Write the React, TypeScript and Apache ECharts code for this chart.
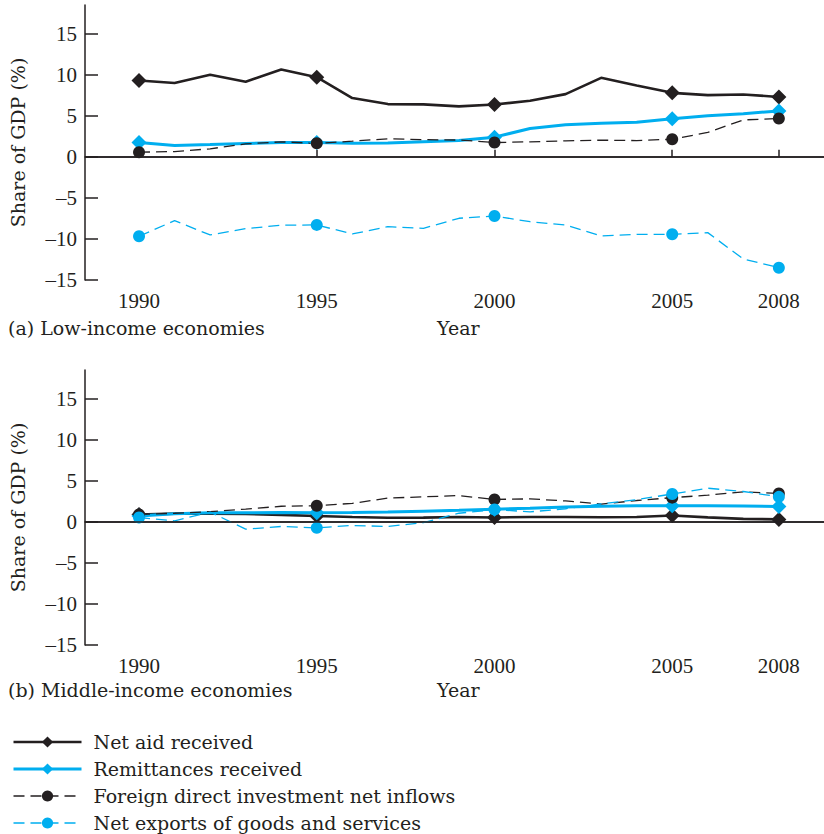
import React, { useEffect, useRef } from "react";
import * as echarts from "echarts";

const years = [1990, 1991, 1992, 1993, 1994, 1995, 1996, 1997, 1998, 1999, 2000, 2001, 2002, 2003, 2004, 2005, 2006, 2007, 2008];
const markerYears = [1990, 1995, 2000, 2005, 2008];
const tickYears = [1990, 1995, 2000, 2005, 2008];
const seriesNames = ["Net aid received", "Remittances received", "Foreign direct investment net inflows", "Net exports of goods and services"];

// (a) Low-income economies
const lowAid = [9.3, 9.0, 10.0, 9.15, 10.65, 9.7, 7.16, 6.43, 6.4, 6.15, 6.38, 6.83, 7.64, 9.63, 8.7, 7.8, 7.52, 7.6, 7.3];
const lowRemit = [1.75, 1.38, 1.5, 1.63, 1.75, 1.75, 1.65, 1.7, 1.85, 2.0, 2.4, 3.45, 3.9, 4.1, 4.23, 4.63, 5.0, 5.25, 5.6];
const lowFdi = [0.57, 0.65, 0.98, 1.58, 1.83, 1.65, 1.91, 2.2, 2.1, 2.05, 1.75, 1.83, 1.95, 2.03, 1.99, 2.15, 2.97, 4.5, 4.67];
const lowExports = [-9.67, -7.77, -9.51, -8.74, -8.33, -8.29, -9.39, -8.5, -8.7, -7.48, -7.2, -7.9, -8.29, -9.63, -9.43, -9.43, -9.23, -12.44, -13.5];

// (b) Middle-income economies
const midAid = [0.9, 1.0, 1.0, 0.95, 0.85, 0.72, 0.6, 0.5, 0.52, 0.6, 0.53, 0.6, 0.6, 0.57, 0.6, 0.78, 0.55, 0.37, 0.3];
const midRemit = [0.7, 1.0, 1.1, 1.1, 1.15, 1.12, 1.15, 1.2, 1.3, 1.4, 1.55, 1.65, 1.8, 1.9, 1.95, 1.95, 1.95, 1.93, 1.87];
const midFdi = [0.9, 1.05, 1.25, 1.55, 1.9, 1.97, 2.25, 2.9, 3.05, 3.2, 2.73, 2.8, 2.55, 2.16, 2.6, 2.95, 3.25, 3.66, 3.46];
const midExports = [0.53, 0.12, 1.2, -0.89, -0.56, -0.73, -0.44, -0.56, -0.1, 1.05, 1.5, 1.22, 1.6, 2.2, 2.7, 3.4, 4.1, 3.7, 3.05];

const BLACK = "#231f20";
const BLUE = "#00aeef";
const SERIF = "'Liberation Serif', 'DejaVu Serif', serif";
const TEXT_SERIF = "'DejaVu Serif', 'Liberation Serif', serif";

function makeData(values: number[]) {
  return years.map((y, i) =>
    markerYears.includes(y) ? { value: [y, values[i]] } : { value: [y, values[i]], symbol: "none" }
  );
}

function seriesFor(idx: number, vals: number[][]) {
  const styles = [
    { color: BLACK, width: 2.6, type: "solid", symbol: "diamond", size: [15, 15] },
    { color: BLUE, width: 3, type: "solid", symbol: "diamond", size: [15, 15] },
    { color: BLACK, width: 1.3, type: [11, 6], symbol: "circle", size: 12 },
    { color: BLUE, width: 1.3, type: [11, 6], symbol: "circle", size: 12 },
  ];
  return vals.map((v, k) => {
    const s = styles[k];
    const out: any = {
      name: seriesNames[k],
      type: "line",
      xAxisIndex: idx,
      yAxisIndex: idx,
      data: makeData(v),
      symbol: s.symbol,
      symbolSize: s.size,
      showSymbol: true,
      color: s.color,
      itemStyle: { color: s.color },
      lineStyle: { color: s.color, width: s.width, type: s.type },
      z: 3,
    };
    if (k === 0) {
      out.markLine = {
        silent: true,
        symbol: "none",
        label: { show: false },
        lineStyle: { color: BLACK, width: 1.5, type: "solid" },
        data: [{ yAxis: 0 }],
      };
    }
    return out;
  });
}

function xAxisFor(gridIndex: number) {
  return {
    type: "value",
    gridIndex,
    min: 1988.48,
    max: 2009.27,
    axisLine: { show: true, lineStyle: { color: BLACK, width: 1.5 } },
    axisTick: { show: true, inside: true, length: 7, customValues: tickYears, lineStyle: { color: BLACK, width: 1.5 } },
    axisLabel: {
      customValues: tickYears,
      margin: 10,
      fontFamily: SERIF,
      fontSize: 21,
      color: BLACK,
      formatter: (v: number) => String(v),
    },
    splitLine: { show: false },
  };
}

function yAxisFor(gridIndex: number) {
  return {
    type: "value",
    gridIndex,
    min: -15,
    max: 18.5,
    interval: 5,
    name: "Share of GDP (%)",
    nameLocation: "middle",
    nameGap: 58,
    nameTextStyle: { fontFamily: TEXT_SERIF, fontSize: 19, color: BLACK },
    axisLine: { show: true, lineStyle: { color: BLACK, width: 1.5 } },
    axisTick: { show: true, inside: true, length: 13, lineStyle: { color: BLACK, width: 1.5 } },
    axisLabel: {
      margin: 8,
      fontFamily: SERIF,
      fontSize: 21,
      color: BLACK,
      showMaxLabel: false,
      formatter: (v: number) => (v > 15 ? "" : v < 0 ? "\u2013" + Math.abs(v) : String(v)),
    },
    splitLine: { show: false },
  };
}

export default function App() {
  const ref = useRef<HTMLDivElement>(null);
  useEffect(() => {
    if (!ref.current) return;
    const chart = echarts.init(ref.current, undefined, { renderer: "svg" });
    const textStyle = { fontFamily: TEXT_SERIF, fontSize: 19, fill: BLACK };
    chart.setOption({
      animation: false,
      backgroundColor: "#ffffff",
      grid: [
        { left: 84, top: 5, width: 740, height: 275 },
        { left: 84, top: 370, width: 740, height: 275 },
      ],
      xAxis: [xAxisFor(0), xAxisFor(1)],
      yAxis: [yAxisFor(0), yAxisFor(1)],
      legend: {
        orient: "vertical",
        left: 12,
        top: 732,
        padding: 0,
        itemWidth: 68,
        itemHeight: 14,
        itemGap: 7,
        height: 110,
        data: seriesNames,
        textStyle: { fontFamily: TEXT_SERIF, fontSize: 19, lineHeight: 20, color: BLACK, padding: [0, 0, 0, 7] },
        lineStyle: { type: "inherit", width: "inherit" },
      },
      graphic: [
        { type: "text", left: 8, top: 318, style: { ...textStyle, text: "(a) Low-income economies" } },
        { type: "text", left: 437, top: 318, style: { ...textStyle, text: "Year" } },
        { type: "text", left: 8, top: 680, style: { ...textStyle, text: "(b) Middle-income economies" } },
        { type: "text", left: 437, top: 680, style: { ...textStyle, text: "Year" } },
      ],
      series: [
        ...seriesFor(0, [lowAid, lowRemit, lowFdi, lowExports]),
        ...seriesFor(1, [midAid, midRemit, midFdi, midExports]),
      ],
    });
    return () => chart.dispose();
  }, []);
  return <div ref={ref} style={{ width: 824, height: 834, position: "absolute", left: 0, top: 0 }} />;
}
